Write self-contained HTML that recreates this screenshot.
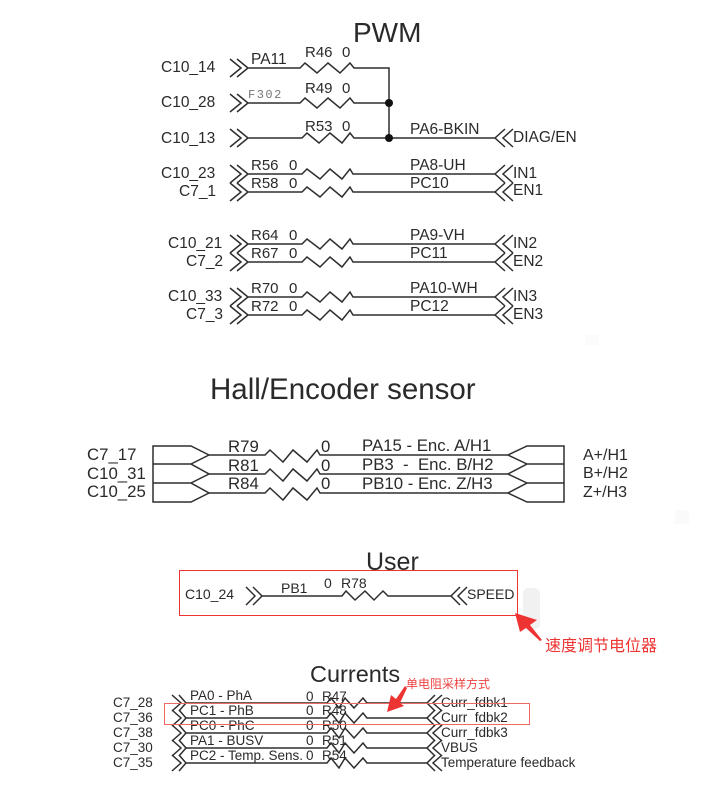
<!DOCTYPE html>
<html><head><meta charset="utf-8"><style>
html,body{margin:0;padding:0;background:#fff}
svg{display:block}
text{font-family:"Liberation Sans","Noto Sans CJK SC",sans-serif;fill:#2a2a2a}
.w{fill:none;stroke:#2e2e2e;stroke-width:1.5;stroke-linejoin:miter}
</style></head><body>
<svg width="724" height="808" viewBox="0 0 724 808" xmlns="http://www.w3.org/2000/svg">
<rect width="724" height="808" fill="#fff"/>
<!-- faint marks -->
<rect x="523" y="588" width="17" height="41" rx="5" fill="#f1f1f1"/>
<rect x="675" y="510" width="14" height="14" fill="#fafafa"/>
<rect x="585" y="335" width="14" height="10" fill="#fbfbfb"/>

<!-- PWM -->
<text x="353" y="42" font-size="28" fill="#222">PWM</text>
<g class="w">
<path d="M230 59l11 9-11 9M237 59l11 9-11 9M248 68H300l5-5 12 10 11-10 12 10 10-10 4 5H389V138"/>
<path d="M230 94l11 9-11 9M237 94l11 9-11 9M248 103H300l5-5 12 10 11-10 12 10 10-10 4 5H389"/>
<path d="M230 129l11 9-11 9M237 129l11 9-11 9M248 138H302l5-5 12 10 11-10 12 10 8-10 4 5H495"/>
<path d="M513 129l-10 9 10 9M505 129l-10 9 10 9"/>
</g>
<circle cx="389" cy="103" r="4" fill="#111"/><circle cx="389" cy="138" r="4" fill="#111"/>
<g font-size="15.5">
<text x="161" y="72">C10_14</text><text x="161" y="107">C10_28</text><text x="161" y="143">C10_13</text>
<text x="251" y="64">PA11</text><text x="305" y="57" font-size="15">R46</text><text x="342" y="57" font-size="15">0</text>
<text x="305" y="93" font-size="15">R49</text><text x="342" y="93" font-size="15">0</text>
<text x="305" y="131" font-size="15">R53</text><text x="342" y="131" font-size="15">0</text>
<text x="410" y="134">PA6-BKIN</text><text x="513" y="142">DIAG/EN</text>
</g>
<text x="248" y="98" font-size="12" letter-spacing="1.500" style="font-family:'Liberation Mono',monospace;fill:#777">F302</text>

<g class="w">
<path d="M230 165l11 9-11 9M237 165l11 9-11 9M248 174H302l5-5 13 10 10-10 12 10 8-10 3 5H495"/>
<path d="M230 183l11 9-11 9M237 183l11 9-11 9M248 192H302l5-5 13 10 10-10 12 10 8-10 3 5H495"/>
<path d="M513 165l-10 9 10 9M505 165l-10 9 10 9M513 183l-10 9 10 9M505 183l-10 9 10 9"/>
<path d="M230 235l11 9-11 9M237 235l11 9-11 9M248 244H302l5-5 13 10 10-10 12 10 8-10 3 5H495"/>
<path d="M230 253l11 9-11 9M237 253l11 9-11 9M248 262H302l5-5 13 10 10-10 12 10 8-10 3 5H495"/>
<path d="M513 235l-10 9 10 9M505 235l-10 9 10 9M513 253l-10 9 10 9M505 253l-10 9 10 9"/>
<path d="M230 288l11 9-11 9M237 288l11 9-11 9M248 297H302l5-5 13 10 10-10 12 10 8-10 3 5H495"/>
<path d="M230 306l11 9-11 9M237 306l11 9-11 9M248 315H302l5-5 13 10 10-10 12 10 8-10 3 5H495"/>
<path d="M513 288l-10 9 10 9M505 288l-10 9 10 9M513 306l-10 9 10 9M505 306l-10 9 10 9"/>
</g>
<g font-size="15.5">
<text x="161" y="178">C10_23</text><text x="179" y="196">C7_1</text>
<text x="168" y="248">C10_21</text><text x="186" y="266">C7_2</text>
<text x="168" y="301">C10_33</text><text x="186" y="319">C7_3</text>
<g font-size="15">
<text x="251" y="170">R56</text><text x="289" y="170">0</text><text x="251" y="188">R58</text><text x="289" y="188">0</text>
<text x="251" y="240">R64</text><text x="289" y="240">0</text><text x="251" y="258">R67</text><text x="289" y="258">0</text>
<text x="251" y="293">R70</text><text x="289" y="293">0</text><text x="251" y="311">R72</text><text x="289" y="311">0</text>
</g>
<text x="410" y="170">PA8-UH</text><text x="410" y="188">PC10</text>
<text x="410" y="240">PA9-VH</text><text x="410" y="258">PC11</text>
<text x="410" y="293">PA10-WH</text><text x="410" y="311">PC12</text>
<text x="513" y="178">IN1</text><text x="513" y="195">EN1</text>
<text x="513" y="248">IN2</text><text x="513" y="266">EN2</text>
<text x="513" y="301">IN3</text><text x="513" y="319">EN3</text>
</g>

<!-- Hall -->
<text x="210" y="399" font-size="29.500" fill="#222">Hall/Encoder sensor</text>
<g class="w">
<path d="M209 455L191 446H153V502H191L209 493L191 483L209 474L191 464L209 455M153 464H191M153 483H191"/>
<path d="M209 455H265l5-5 13 12 10-12 14 12 10-12 3 5H508"/>
<path d="M209 474H265l5-5 13 12 10-12 14 12 10-12 3 5H508"/>
<path d="M209 493H265l5-5 13 12 10-12 14 12 10-12 3 5H508"/>
<path d="M508 455L527 446H564V502H527L508 493L527 483L508 474L527 464L508 455M527 464H564M527 483H564"/>
</g>
<g font-size="16.800">
<text x="87" y="460">C7_17</text><text x="87" y="479">C10_31</text><text x="87" y="497">C10_25</text>
<text x="228" y="452">R79</text><text x="228" y="471">R81</text><text x="228" y="489">R84</text>
<text x="321" y="452">0</text><text x="321" y="471">0</text><text x="321" y="489">0</text>
<text x="362" y="451">PA15 - Enc. A/H1</text><text x="362" y="470">PB3&#160; - &#160;Enc. B/H2</text><text x="362" y="489">PB10 - Enc. Z/H3</text>
<text x="583" y="460" font-size="16">A+/H1</text><text x="583" y="478" font-size="16">B+/H2</text><text x="583" y="497" font-size="16">Z+/H3</text>
</g>

<!-- User -->
<text x="366" y="570" font-size="25" fill="#222">User</text>
<g class="w">
<path d="M246 587l9 9-9 9M253 587l9 9-9 9M262 596H342l4-5 9 9 10-9 9 9 9-9 5 5H452"/>
<path d="M467 587l-9 9 9 9M460 587l-9 9 9 9"/>
</g>
<g font-size="14">
<text x="185" y="599">C10_24</text><text x="281" y="593">PB1</text><text x="324" y="588">0</text><text x="341" y="588">R78</text><text x="467" y="599">SPEED</text>
</g>
<rect x="179.500" y="570.500" width="338" height="45" fill="none" stroke="#ee3333" stroke-width="1"/>
<polygon points="515,613 537,620 530,625 542,640 540,641 526,628 520,632" fill="#ee3333"/>
<text x="545" y="651" font-size="16" style="fill:#ee3333">速度调节电位器</text>

<!-- Currents -->
<text x="310" y="682" font-size="23.500" fill="#222">Currents</text>
<g class="w" stroke-width="1.3">
<path d="M172 695l9 8-9 8M179 695l7 8-7 8"/>
<path d="M172 710l9 8-9 8M179 710l7 8-7 8"/>
<path d="M172 725l9 8-9 8M179 725l7 8-7 8"/>
<path d="M172 740l9 8-9 8M179 740l7 8-7 8"/>
<path d="M172 755l9 8-9 8M179 755l7 8-7 8"/>
<path d="M186 703H327l4-5 8 10 6-10 9 10 9-10 4 5H427"/>
<path d="M186 718H327l4-5 8 10 6-10 9 10 9-10 4 5H427"/>
<path d="M186 733H327l4-5 8 10 6-10 9 10 9-10 4 5H427"/>
<path d="M186 748H327l4-5 8 10 6-10 9 10 9-10 4 5H427"/>
<path d="M186 763H327l4-5 8 10 6-10 9 10 9-10 4 5H427"/>
<path d="M442 695l-9 8 9 8M435 695l-8 8 8 8"/>
<path d="M442 710l-9 8 9 8M435 710l-8 8 8 8"/>
<path d="M442 725l-9 8 9 8M435 725l-8 8 8 8"/>
<path d="M442 740l-9 8 9 8M435 740l-8 8 8 8"/>
<path d="M442 755l-9 8 9 8M435 755l-8 8 8 8"/>
</g>
<g font-size="13.500">
<text x="113" y="707">C7_28</text><text x="113" y="722">C7_36</text><text x="113" y="737">C7_38</text><text x="113" y="752">C7_30</text><text x="113" y="767">C7_35</text>
<text x="190" y="700">PA0 - PhA</text><text x="190" y="715">PC1 - PhB</text><text x="190" y="730">PC0 - PhC</text><text x="190" y="745">PA1 - BUSV</text><text x="190" y="760">PC2 - Temp. Sens.</text>
<text x="306" y="701">0</text><text x="306" y="715">0</text><text x="306" y="730">0</text><text x="306" y="745">0</text><text x="306" y="760">0</text>
<text x="322" y="701">R47</text><text x="322" y="715">R48</text><text x="322" y="730">R50</text><text x="322" y="745">R51</text><text x="322" y="760">R54</text>
<text x="441" y="707">Curr_fdbk1</text><text x="441" y="722">Curr_fdbk2</text><text x="441" y="737">Curr_fdbk3</text><text x="441" y="752">VBUS</text><text x="441" y="767">Temperature feedback</text>
</g>
<rect x="164.500" y="703.500" width="365" height="21" fill="none" stroke="#ee6666" stroke-width="1"/>
<polygon points="387,712 391,695 396,699 405,686 407,688 400,703 404,706" fill="#ee3333"/>
<text x="406" y="688" font-size="12" style="fill:#ee4444">单电阻采样方式</text>
</svg>
</body></html>
